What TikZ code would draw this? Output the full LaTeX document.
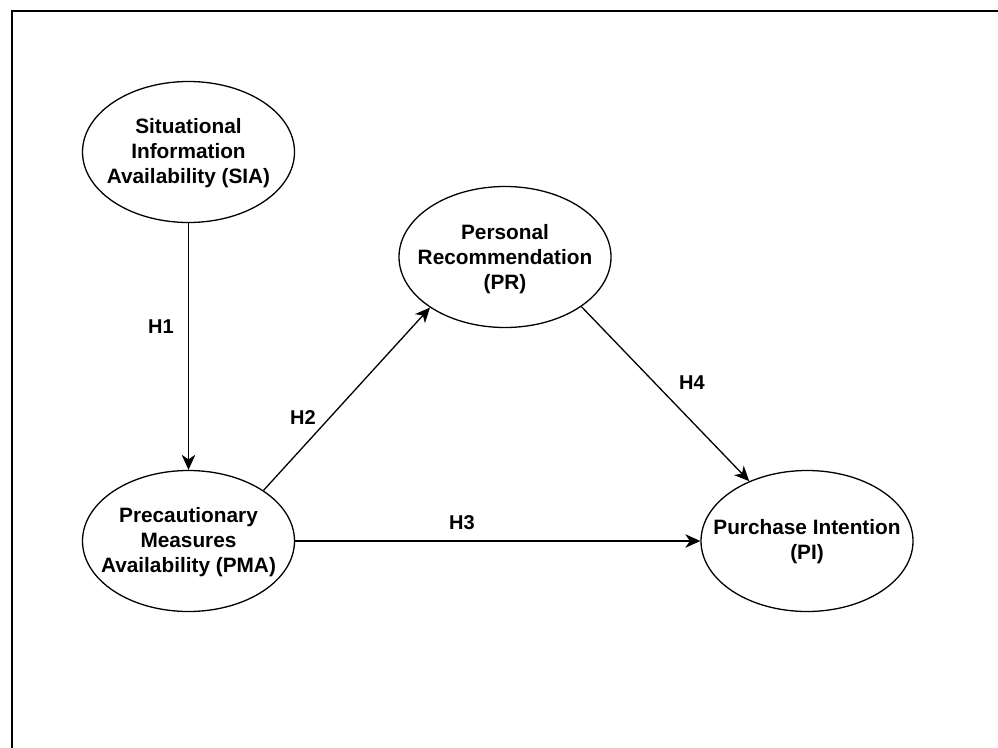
\documentclass[tikz,border=0pt]{standalone}
\usepackage{fontspec}
\setmainfont{Liberation Sans}
\usetikzlibrary{arrows.meta,shapes.geometric}
\begin{document}
\begin{tikzpicture}[x=1pt,y=-1pt,
  oval/.style={draw,ellipse,line width=1.3pt,minimum width=212pt,minimum height=141pt,inner sep=0pt},
  lbl/.style={align=center,font=\fontsize{20.8}{25}\selectfont\bfseries,inner sep=0pt},
  hyp/.style={font=\fontsize{20}{24}\selectfont\bfseries,inner sep=0pt},
  conn/.style={line width=1.3pt,-{Stealth[length=15pt,width=13.5pt,inset=4.5pt]}},
  frame/.style={line width=1.5pt}]
\useasboundingbox (0,0) rectangle (998,747);
\coordinate (fa) at (12,760);
\coordinate (fb) at (12,11);
\coordinate (fc) at (1010,11);
\draw[frame] (fa) -- (fb) -- (fc);

\node[oval] (sia) at (188.5,152) {};
\node[lbl] (siat) at (188.5,153) {Situational\\Information\\Availability (SIA)};
\node[oval] (pma) at (188.5,541) {};
\node[lbl] (pmat) at (188.5,542) {Precautionary\\Measures\\Availability (PMA)};
\node[oval] (pr) at (505,257) {};
\node[lbl] (prt) at (505,259) {Personal\\Recommendation\\(PR)};
\node[oval] (pi) at (807,541) {};
\node[lbl] (pit) at (807,542) {Purchase Intention\\(PI)};

\draw[conn] (sia.south) -- (pma.north);
\draw[conn] (pma.34) -- (pr.214);
\draw[conn] (pma.east) -- (pi.west);
\draw[conn] (pr.-33) -- (pi.134.5);

\node[hyp] (h1) at (161,327) {H1};
\node[hyp] (h2) at (303,418) {H2};
\node[hyp] (h3) at (462,523) {H3};
\node[hyp] (h4) at (692,383) {H4};
\end{tikzpicture}
\end{document}
